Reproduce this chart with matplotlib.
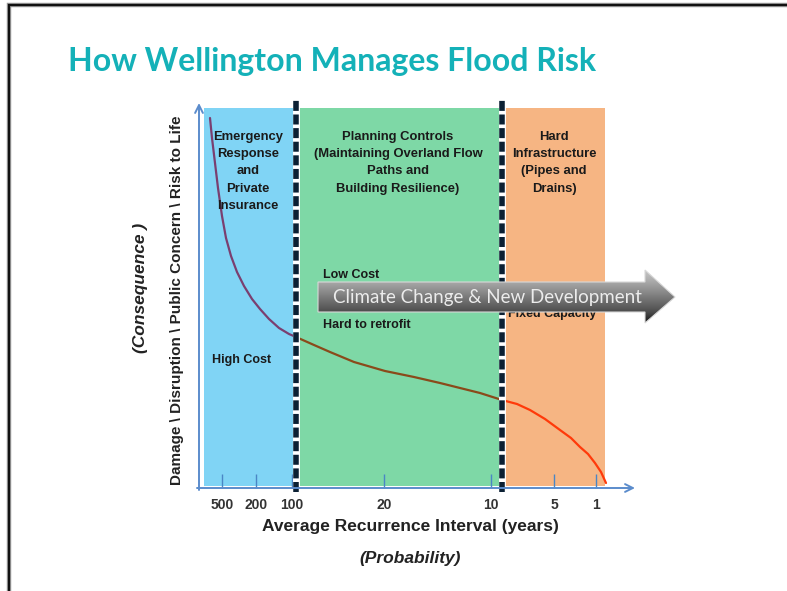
import numpy as np
import matplotlib
matplotlib.use('Agg')
import matplotlib.pyplot as plt
from matplotlib.patches import Polygon

plt.rcParams['font.family'] = ['Liberation Sans', 'DejaVu Sans']
plt.rcParams['lines.scale_dashes'] = False

# ---------------- data ----------------
title = "How Wellington Manages Flood Risk"
ari_ticks = [500, 200, 100, 20, 10, 5, 1]
zone_names = ["Emergency\nResponse\nand\nPrivate\nInsurance",
              "Planning Controls\n(Maintaining Overland Flow\nPaths and\nBuilding Resilience)",
              "Hard\nInfrastructure\n(Pipes and\nDrains)"]
zone_colors = ["#80d4f5", "#7ed8a6", "#f6b583"]
curve_colors = ["#7a3f70", "#8a4a1a", "#ff3a0a"]
# curve: position along ARI axis, consequence level
curve_pos = [11, 13, 16, 19, 23, 27, 32, 38, 45, 53, 61, 70, 80, 90, 97,
             115, 131, 155, 186, 215, 241, 265, 281, 303,
             318, 331, 346, 361, 372, 381, 389, 396, 402, 407]
curve_consequence = [370, 350, 325, 300, 272, 250, 232, 216, 202, 189, 179,
                     169, 160, 154, 151, 143, 136, 126, 117, 111, 105, 99, 95,
                     88, 84, 78, 69, 58, 50, 41, 34, 25, 16, 5]
notes_green = ["Low Cost", "Adaptable", "Hard to retrofit"]
note_orange = "Fixed Capacity"
note_blue = "High Cost"
arrow_text = "Climate Change & New Development"
xlabel = "Average Recurrence Interval (years)"
xlabel2 = "(Probability)"
ylabel = "Damage \\ Disruption \\ Public Concern \\ Risk to Life"
ylabel2 = "(Consequence )"

# ---------------- layout ----------------
W, H = 787, 591
tick_pos = [23, 57, 93, 185, 292, 355, 397]
zone_edges = [5, 97, 303, 406]
zone_text_x = [49, 199, 355]
XMAX, YMAX = 441, 388

fig = plt.figure(figsize=(W / 100, H / 100), dpi=100)
fig.patch.set_facecolor('white')

ax = fig.add_axes([199 / W, 1 - 488 / H, XMAX / W, YMAX / H])
ax.set_xlim(0, XMAX)
ax.set_ylim(0, YMAX)
ax.patch.set_alpha(0)
for s in ax.spines.values():
    s.set_visible(False)
ax.set_yticks([])
ax.set_xticks(tick_pos, labels=[str(v) for v in ari_ticks])
ax.tick_params(axis='x', direction='in', length=10, width=1, color='#4a86c5',
               pad=7, labelsize=10, labelcolor='#333333')
for lab in ax.get_xticklabels():
    lab.set_fontweight('bold')

# zones
for i in range(3):
    ax.fill_between([zone_edges[i], zone_edges[i + 1]], 2, 380,
                    color=zone_colors[i], lw=0, zorder=0)

# curve, coloured per zone
pos = np.array(curve_pos)
con = np.array(curve_consequence)
masks = [pos <= zone_edges[1],
         (pos >= zone_edges[1]) & (pos <= zone_edges[2]),
         pos >= zone_edges[2]]
for i in range(3):
    ax.plot(pos[masks[i]], con[masks[i]], color=curve_colors[i], lw=1.6,
            zorder=3, solid_capstyle='round', solid_joinstyle='round')

# dashed zone boundaries
for xb in zone_edges[1:3]:
    ax.plot([xb, xb], [-4, YMAX], color='white', lw=5, zorder=4, clip_on=False)
    ax.plot([xb, xb], [-4, YMAX], color='#0b2033', lw=4, zorder=5,
            clip_on=False, dashes=(7.2, 2.6), solid_capstyle='butt',
            dash_capstyle='butt')

# axes arrows
axis_col = '#5b8ccc'
ax.annotate('', xy=(436, 0), xytext=(-2, 0),
            arrowprops=dict(arrowstyle='->', color=axis_col, lw=1.4,
                            mutation_scale=14, shrinkA=0, shrinkB=0),
            annotation_clip=False, zorder=6)
ax.annotate('', xy=(0, 385), xytext=(0, -2),
            arrowprops=dict(arrowstyle='->', color=axis_col, lw=1.4,
                            mutation_scale=14, shrinkA=0, shrinkB=0),
            annotation_clip=False, zorder=6)

# zone texts
txt_kw = dict(fontsize=9.4, fontweight='bold', color='#1a1a1a', ha='center',
              va='top', linespacing=1.58, zorder=6)
for i in range(3):
    ax.text(zone_text_x[i], 357, zone_names[i], **txt_kw)

note_kw = dict(fontsize=9, fontweight='bold', color='#1a1a1a', ha='left',
               va='center', zorder=6)
for j, t in enumerate(notes_green):
    ax.text(124, 213 - 25 * j, t, **note_kw)
ax.text(309, 174, note_orange, **note_kw)
ax.text(13, 128, note_blue, **note_kw)

# axis labels
fig.text(410 / W, 1 - 527 / H, xlabel, ha='center', va='center',
         fontsize=12.5, fontweight='bold', color='#222222')
fig.text(410 / W, 1 - 558 / H, xlabel2, ha='center', va='center',
         fontsize=12.5, fontweight='bold', fontstyle='italic', color='#222222')
fig.text(177 / W, 1 - 300 / H, ylabel, ha='center', va='center', rotation=90,
         fontsize=11, fontweight='bold', color='#222222')
fig.text(141 / W, 1 - 288 / H, ylabel2, ha='center', va='center', rotation=90,
         fontsize=12.5, fontweight='bold', fontstyle='italic', color='#222222')

# ---------------- overlay: title, border, big arrow ----------------
ov = fig.add_axes([0, 0, 1, 1])
ov.set_zorder(5)
ov.patch.set_alpha(0)
ov.set_axis_off()

ov.text(68, 62, title, fontsize=23, fontweight='bold', color='#14b1b8',
        family=['Lato', 'DejaVu Sans'], ha='left', va='center')

# slide border
ov.plot([9, 9, W + 5], [H + 5, 5, 5], color='#9a9a9a', lw=3.2,
        solid_joinstyle='miter', clip_on=False)
ov.plot([9, 9, W + 5], [H + 5, 5, 5], color='#111111', lw=1.6,
        solid_joinstyle='miter', clip_on=False)

arrow_pts = [(318, 282), (645, 282), (645, 270), (675, 297), (645, 323),
             (645, 312), (318, 312)]
poly = Polygon(arrow_pts, closed=True, facecolor='none', edgecolor='#d8d8d8',
               lw=0.8, zorder=3)
ov.add_patch(poly)
ys = np.linspace(270, 323, 200)
stops_y = [270, 282, 312, 323]
stops_v = [0.78, 0.66, 0.30, 0.08]
vals = np.interp(ys, stops_y, stops_v)
grad = np.repeat(vals[:, None], 2, axis=1)
im = ov.imshow(np.dstack([grad, grad, grad]), extent=(318, 675, 323, 270),
               aspect='auto', zorder=2, interpolation='bilinear')
im.set_clip_path(poly)
ov.text(487, 297, arrow_text, fontsize=13.5, color='#ececec',
        family=['Lato', 'DejaVu Sans'], ha='center', va='center', zorder=4)

ov.set_xlim(0, W)
ov.set_ylim(H, 0)

fig.savefig('out.png', dpi=100)
